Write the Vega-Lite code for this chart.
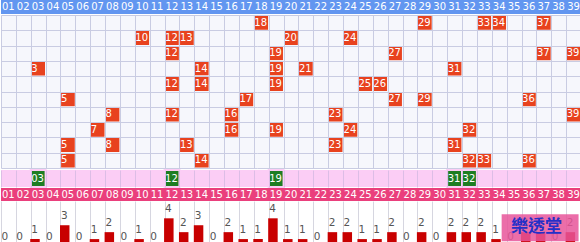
{
  "$schema": "https://vega.github.io/schema/vega-lite/v6.json",
  "padding": 0,
  "background": "#ffffff",
  "config": {
    "view": {"stroke": null},
    "concat": {"spacing": 0},
    "axis": {"labels": false, "ticks": false, "domain": false, "grid": true, "tickBand": "extent", "minExtent": 0, "maxExtent": 0, "offset": 0, "gridWidth": 1},
    "text": {"font": "DejaVu Sans"}
  },
  "datasets": {
    "nums": [
      {"num": 1, "count": 0}, {"num": 2, "count": 0}, {"num": 3, "count": 1}, {"num": 4, "count": 0},
      {"num": 5, "count": 3}, {"num": 6, "count": 0}, {"num": 7, "count": 1}, {"num": 8, "count": 2},
      {"num": 9, "count": 0}, {"num": 10, "count": 1}, {"num": 11, "count": 0}, {"num": 12, "count": 4},
      {"num": 13, "count": 2}, {"num": 14, "count": 3}, {"num": 15, "count": 0}, {"num": 16, "count": 2},
      {"num": 17, "count": 1}, {"num": 18, "count": 1}, {"num": 19, "count": 4}, {"num": 20, "count": 1},
      {"num": 21, "count": 1}, {"num": 22, "count": 0}, {"num": 23, "count": 2}, {"num": 24, "count": 2},
      {"num": 25, "count": 1}, {"num": 26, "count": 1}, {"num": 27, "count": 2}, {"num": 28, "count": 0},
      {"num": 29, "count": 2}, {"num": 30, "count": 0}, {"num": 31, "count": 2}, {"num": 32, "count": 2},
      {"num": 33, "count": 2}, {"num": 34, "count": 1}, {"num": 35, "count": 0}, {"num": 36, "count": 2},
      {"num": 37, "count": 2}, {"num": 38, "count": 0}, {"num": 39, "count": 2}
    ],
    "draws": [
      {"row": 1, "num": 18}, {"row": 1, "num": 29}, {"row": 1, "num": 33}, {"row": 1, "num": 34}, {"row": 1, "num": 37},
      {"row": 2, "num": 10}, {"row": 2, "num": 12}, {"row": 2, "num": 13}, {"row": 2, "num": 20}, {"row": 2, "num": 24},
      {"row": 3, "num": 12}, {"row": 3, "num": 19}, {"row": 3, "num": 27}, {"row": 3, "num": 37}, {"row": 3, "num": 39},
      {"row": 4, "num": 3}, {"row": 4, "num": 14}, {"row": 4, "num": 19}, {"row": 4, "num": 21}, {"row": 4, "num": 31},
      {"row": 5, "num": 12}, {"row": 5, "num": 14}, {"row": 5, "num": 19}, {"row": 5, "num": 25}, {"row": 5, "num": 26},
      {"row": 6, "num": 5}, {"row": 6, "num": 17}, {"row": 6, "num": 27}, {"row": 6, "num": 29}, {"row": 6, "num": 36},
      {"row": 7, "num": 8}, {"row": 7, "num": 12}, {"row": 7, "num": 16}, {"row": 7, "num": 23}, {"row": 7, "num": 39},
      {"row": 8, "num": 7}, {"row": 8, "num": 16}, {"row": 8, "num": 19}, {"row": 8, "num": 24}, {"row": 8, "num": 32},
      {"row": 9, "num": 5}, {"row": 9, "num": 8}, {"row": 9, "num": 13}, {"row": 9, "num": 23}, {"row": 9, "num": 31},
      {"row": 10, "num": 5}, {"row": 10, "num": 14}, {"row": 10, "num": 32}, {"row": 10, "num": 33}, {"row": 10, "num": 36}
    ],
    "latest": [{"num": 3}, {"num": 12}, {"num": 19}, {"num": 31}, {"num": 32}],
    "logo": [{"label": "樂透堂", "from": 35, "to": 39, "mid": 37, "lo": 0.7, "hi": 4.6, "pos": 2.7}]
  },
  "vconcat": [
    {
      "width": 580, "height": 14,
      "view": {"fill": "#6296f0"},
      "data": {"name": "nums"},
      "mark": {"type": "text", "align": "left", "baseline": "middle", "dx": 1, "fontSize": 10, "color": "#ffffff"},
      "encoding": {
        "x": {"field": "num", "type": "ordinal", "bandPosition": 0, "axis": null, "scale": {"type": "band", "paddingInner": 0, "paddingOuter": 0}},
        "text": {"field": "num", "type": "quantitative", "format": "02d"}
      }
    },
    {
      "width": 580, "height": 153,
      "view": {"fill": "#f6f7fc"},
      "data": {"name": "draws"},
      "encoding": {
        "x": {"field": "num", "type": "ordinal", "title": null, "axis": {"gridColor": "#c9cce2"},
              "scale": {"type": "band", "paddingInner": 0, "paddingOuter": 0, "domain": [1,2,3,4,5,6,7,8,9,10,11,12,13,14,15,16,17,18,19,20,21,22,23,24,25,26,27,28,29,30,31,32,33,34,35,36,37,38,39]}},
        "y": {"field": "row", "type": "ordinal", "title": null, "axis": {"gridColor": "#c9cce2"},
              "scale": {"type": "band", "paddingInner": 0, "paddingOuter": 0, "domain": [1,2,3,4,5,6,7,8,9,10]}}
      },
      "layer": [
        {"mark": {"type": "rect", "color": "#e8421e", "stroke": "#f6f7fc", "strokeWidth": 1.2}},
        {"mark": {"type": "text", "align": "left", "baseline": "middle", "dx": 0.5, "fontSize": 10, "color": "#ffffff"},
         "encoding": {"x": {"field": "num", "type": "ordinal", "bandPosition": 0}, "text": {"field": "num", "type": "quantitative"}}}
      ]
    },
    {
      "width": 580, "height": 17,
      "view": {"fill": "#fbcdf5"},
      "data": {"name": "latest"},
      "encoding": {
        "x": {"field": "num", "type": "ordinal", "title": null, "axis": {"gridColor": "#dcbde6"},
              "scale": {"type": "band", "paddingInner": 0, "paddingOuter": 0, "domain": [1,2,3,4,5,6,7,8,9,10,11,12,13,14,15,16,17,18,19,20,21,22,23,24,25,26,27,28,29,30,31,32,33,34,35,36,37,38,39]}}
      },
      "layer": [
        {"mark": {"type": "rect", "color": "#1d7d22", "stroke": "#fbcdf5", "strokeWidth": 2}},
        {"mark": {"type": "text", "align": "left", "baseline": "middle", "dx": 0.5, "fontSize": 10, "color": "#ffffff"},
         "encoding": {"x": {"field": "num", "type": "ordinal", "bandPosition": 0}, "text": {"field": "num", "type": "quantitative", "format": "02d"}}}
      ]
    },
    {
      "width": 580, "height": 13,
      "view": {"fill": "#ea3f7c"},
      "data": {"name": "nums"},
      "mark": {"type": "text", "align": "left", "baseline": "middle", "dx": 1, "fontSize": 10, "color": "#ffffff"},
      "encoding": {
        "x": {"field": "num", "type": "ordinal", "bandPosition": 0, "axis": null, "scale": {"type": "band", "paddingInner": 0, "paddingOuter": 0}},
        "text": {"field": "num", "type": "quantitative", "format": "02d"}
      }
    },
    {
      "width": 580, "height": 45,
      "view": {"fill": "#ffffff"},
      "layer": [
        {
          "data": {"name": "nums"},
          "mark": {"type": "bar", "color": "#c80000", "width": 9.5, "xOffset": -3.2},
          "encoding": {
            "x": {"field": "num", "type": "ordinal", "title": null, "axis": {"gridColor": "#d6d6e0"},
                  "scale": {"type": "band", "paddingInner": 0, "paddingOuter": 0}},
            "y": {"field": "count", "type": "quantitative", "axis": null, "scale": {"domain": [0, 6.4]}}
          }
        },
        {
          "data": {"name": "nums"},
          "mark": {"type": "text", "align": "left", "baseline": "bottom", "dx": 0.5, "dy": -4, "fontSize": 10.5, "color": "#555555"},
          "encoding": {
            "x": {"field": "num", "type": "ordinal", "bandPosition": 0},
            "y": {"field": "count", "type": "quantitative"},
            "text": {"field": "count", "type": "quantitative"}
          }
        },
        {
          "data": {"name": "logo"},
          "mark": {"type": "rect", "color": "#e8559a", "opacity": 0.85, "xOffset": -5, "x2Offset": 5},
          "encoding": {
            "x": {"field": "from", "type": "ordinal", "bandPosition": 0},
            "x2": {"field": "to"},
            "y": {"field": "lo", "type": "quantitative"},
            "y2": {"field": "hi"}
          }
        },
        {
          "data": {"name": "logo"},
          "mark": {"type": "text", "align": "center", "baseline": "middle", "font": "Noto Sans CJK TC", "fontSize": 17, "fontWeight": "bold", "color": "#2430c8"},
          "encoding": {
            "x": {"field": "mid", "type": "ordinal", "bandPosition": 0},
            "y": {"field": "pos", "type": "quantitative"},
            "text": {"field": "label"}
          }
        }
      ]
    }
  ]
}
